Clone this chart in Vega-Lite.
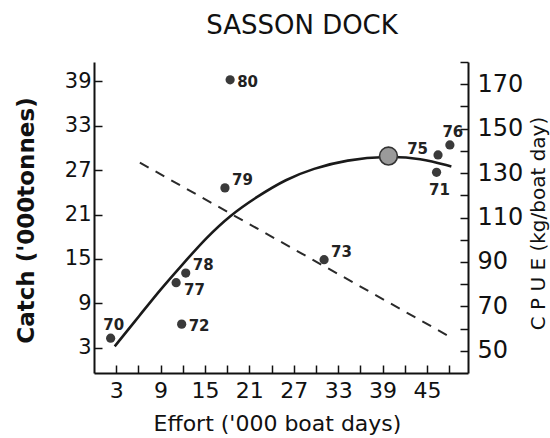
{
  "$schema": "https://vega.github.io/schema/vega-lite/v6.json",
  "width": 374,
  "height": 311,
  "autosize": "none",
  "padding": {"left": 94, "top": 62, "right": 82, "bottom": 65},
  "background": "white",
  "title": {"text": "SASSON DOCK", "font": "DejaVu Sans", "fontSize": 26, "fontWeight": "normal", "color": "#111", "anchor": "middle", "dx": 21, "offset": 22},
  "config": {
    "view": {"stroke": null},
    "axis": {"grid": false, "domainColor": "#111", "domainWidth": 2, "tickColor": "#111", "tickWidth": 1.5, "labelColor": "#111", "titleColor": "#111", "labelFont": "DejaVu Sans", "titleFont": "DejaVu Sans"}
  },
  "datasets": {
    "points": [
      {"effort": 18.4, "catch": 39.2, "year": "80"},
      {"effort": 17.7, "catch": 24.6, "year": "79"},
      {"effort": 12.4, "catch": 13.1, "year": "78"},
      {"effort": 11.1, "catch": 11.8, "year": "77"},
      {"effort": 11.85, "catch": 6.2, "year": "72"},
      {"effort": 2.25, "catch": 4.3, "year": "70"},
      {"effort": 31.1, "catch": 14.9, "year": "73"},
      {"effort": 46.5, "catch": 29.05, "year": "75"},
      {"effort": 48.1, "catch": 30.4, "year": "76"},
      {"effort": 46.3, "catch": 26.7, "year": "71"}
    ],
    "curve": [
      {"effort": 2.8, "catch": 3.2},
      {"effort": 6.2, "catch": 7.4},
      {"effort": 8.9, "catch": 10.8},
      {"effort": 11.9, "catch": 14.2},
      {"effort": 15.2, "catch": 17.9},
      {"effort": 18.4, "catch": 20.9},
      {"effort": 22.0, "catch": 23.4},
      {"effort": 26.0, "catch": 25.8},
      {"effort": 29.6, "catch": 27.2},
      {"effort": 34.1, "catch": 28.4},
      {"effort": 39.8, "catch": 28.9},
      {"effort": 44.1, "catch": 28.6},
      {"effort": 48.3, "catch": 27.5}
    ],
    "msy": [{"effort": 39.8, "catch": 28.9}],
    "cpue": [
      {"effort": 6.2, "cpue": 134.7},
      {"effort": 48.1, "cpue": 56.3}
    ]
  },
  "encoding": {
    "x": {
      "field": "effort", "type": "quantitative",
      "scale": {"domain": [0, 50.55], "nice": false, "zero": false},
      "axis": {
        "title": "Effort ('000 boat days)",
        "titleFontSize": 22, "titleFontWeight": "normal",
        "titleX": 183, "titleY": 50, "titleBaseline": "middle", "titleAlign": "center",
        "values": [3, 6, 9, 12, 15, 18, 21, 24, 27, 30, 33, 36, 39, 42, 45, 48],
        "labelExpr": "(datum.value - 3) % 6 === 0 ? datum.label : ''",
        "labelFontSize": 22, "labelPadding": 15, "tickSize": -8
      }
    }
  },
  "layer": [
    {
      "layer": [
        {
          "data": {"name": "curve"},
          "mark": {"type": "line", "interpolate": "basis", "color": "#1a1a1a", "strokeWidth": 2.6},
          "encoding": {
            "y": {
              "field": "catch", "type": "quantitative",
              "scale": {"domain": [-0.4, 41.6], "nice": false, "zero": false},
              "axis": {
                "orient": "left",
                "title": "Catch ('000tonnes)",
                "titleFontSize": 23, "titleFontWeight": "bold",
                "titleAngle": -90, "titleX": -68, "titleY": 158, "titleAlign": "center", "titleBaseline": "middle",
                "values": [3, 6, 9, 12, 15, 18, 21, 24, 27, 30, 33, 36, 39],
                "labelExpr": "(datum.value - 3) % 6 === 0 ? datum.label : ''",
                "labelFontSize": 21, "labelPadding": 11, "tickSize": -8
              }
            }
          }
        },
        {
          "data": {"name": "msy"},
          "mark": {"type": "point", "shape": "circle", "size": 320, "filled": true, "fill": "#9a9a9a", "stroke": "#333", "strokeWidth": 1.6, "opacity": 1},
          "encoding": {"y": {"field": "catch", "type": "quantitative"}}
        },
        {
          "data": {"name": "points"},
          "mark": {"type": "circle", "size": 85, "color": "#3a3a3a", "opacity": 1},
          "encoding": {"y": {"field": "catch", "type": "quantitative"}}
        },
        {
          "data": {"name": "points"},
          "transform": [{"filter": "indexof(['80','72'], datum.year) >= 0"}],
          "mark": {"type": "text", "align": "left", "baseline": "middle", "dx": 7, "dy": 2, "font": "DejaVu Sans", "fontSize": 15, "fontWeight": "bold", "color": "#222"},
          "encoding": {"y": {"field": "catch", "type": "quantitative"}, "text": {"field": "year"}}
        },
        {
          "data": {"name": "points"},
          "transform": [{"filter": "indexof(['79','78','73'], datum.year) >= 0"}],
          "mark": {"type": "text", "align": "left", "baseline": "middle", "dx": 7, "dy": -8, "font": "DejaVu Sans", "fontSize": 15, "fontWeight": "bold", "color": "#222"},
          "encoding": {"y": {"field": "catch", "type": "quantitative"}, "text": {"field": "year"}}
        },
        {
          "data": {"name": "points"},
          "transform": [{"filter": "datum.year === '77'"}],
          "mark": {"type": "text", "align": "left", "baseline": "middle", "dx": 8, "dy": 7, "font": "DejaVu Sans", "fontSize": 15, "fontWeight": "bold", "color": "#222"},
          "encoding": {"y": {"field": "catch", "type": "quantitative"}, "text": {"field": "year"}}
        },
        {
          "data": {"name": "points"},
          "transform": [{"filter": "datum.year === '75'"}],
          "mark": {"type": "text", "align": "right", "baseline": "middle", "dx": -10, "dy": -6, "font": "DejaVu Sans", "fontSize": 15, "fontWeight": "bold", "color": "#222"},
          "encoding": {"y": {"field": "catch", "type": "quantitative"}, "text": {"field": "year"}}
        },
        {
          "data": {"name": "points"},
          "transform": [{"filter": "indexof(['70','76'], datum.year) >= 0"}],
          "mark": {"type": "text", "align": "center", "baseline": "middle", "dx": 3, "dy": -13, "font": "DejaVu Sans", "fontSize": 15, "fontWeight": "bold", "color": "#222"},
          "encoding": {"y": {"field": "catch", "type": "quantitative"}, "text": {"field": "year"}}
        },
        {
          "data": {"name": "points"},
          "transform": [{"filter": "datum.year === '71'"}],
          "mark": {"type": "text", "align": "center", "baseline": "middle", "dx": 3, "dy": 18, "font": "DejaVu Sans", "fontSize": 15, "fontWeight": "bold", "color": "#222"},
          "encoding": {"y": {"field": "catch", "type": "quantitative"}, "text": {"field": "year"}}
        }
      ]
    },
    {
      "data": {"name": "cpue"},
      "mark": {"type": "line", "color": "#2a2a2a", "strokeWidth": 2, "strokeDash": [10, 8]},
      "encoding": {
        "y": {
          "field": "cpue", "type": "quantitative",
          "scale": {"domain": [40, 180], "nice": false, "zero": false},
          "axis": {
            "orient": "right",
            "title": "C P U E  (kg/boat day)",
            "titleFontSize": 20, "titleFontWeight": "normal",
            "titleAngle": -90, "titleX": 70, "titleY": 161, "titleAlign": "center", "titleBaseline": "middle",
            "values": [50, 60, 70, 80, 90, 100, 110, 120, 130, 140, 150, 160, 170, 180],
            "labelExpr": "(datum.value - 50) % 20 === 0 && datum.value <= 170 ? datum.label : ''",
            "labelFontSize": 24, "labelPadding": 17, "tickSize": -8
          }
        }
      }
    }
  ],
  "resolve": {"scale": {"y": "independent"}}
}
